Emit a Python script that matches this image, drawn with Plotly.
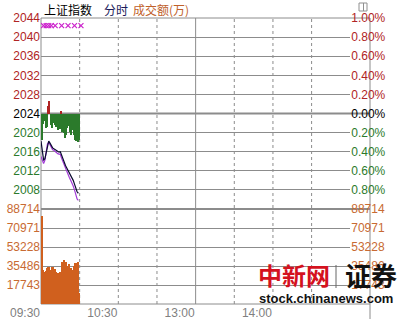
import plotly.graph_objects as go
from plotly.subplots import make_subplots

# ---------------- data ----------------
minutes = list(range(30))  # minutes since 09:30
index_price = [2018.2, 2015.5, 2014.3, 2014.5, 2015.8, 2017.5, 2018.2, 2017.8, 2017.2, 2016.8,
               2016.6, 2016.4, 2016.2, 2016.0, 2015.9, 2016.0, 2015.2, 2014.5, 2013.7, 2013.1,
               2012.6, 2012.1, 2011.6, 2011.0, 2010.4, 2010.0, 2009.2, 2008.3, 2007.6, 2007.3]
avg_price = [2015.0, 2014.0, 2013.5, 2014.2, 2016.0, 2017.6, 2018.0, 2017.5, 2016.8, 2016.4,
             2016.3, 2016.0, 2015.8, 2015.6, 2015.5, 2015.4, 2014.6, 2013.9, 2013.0, 2012.3,
             2011.6, 2011.0, 2010.6, 2010.0, 2009.5, 2008.8, 2008.0, 2007.0, 2006.1, 2005.8]
strength = [-5.5, -2.2, -1.5, -3.0, -2.8, 1.6, 2.6, -2.5, -3.0, -2.0,
            -2.4, -2.8, -2.2, -3.5, -3.3, 0.5, -3.8, -4.0, -5.2, -4.5,
            -3.0, -2.6, -3.8, -4.4, -3.4, -4.6, -5.6, -5.8, -6.0, -5.5]
volume = [82200, 31700, 29900, 30800, 33600, 34500, 34800, 31700, 34500, 34500,
          32700, 29900, 28900, 28900, 29900, 28900, 39200, 41100, 38300, 39200,
          35500, 37400, 33600, 33600, 31700, 35500, 38300, 38300, 39200, 10300]
signal_minutes = [2, 4, 6, 8, 11, 16, 21, 26, 31]
signal_level = [2042.4] * len(signal_minutes)

prev_close = 2024
price_ticks = [2008, 2012, 2016, 2020, 2024, 2028, 2032, 2036, 2040, 2044]
price_labels = ["2008", "2012", "2016", "2020", "2024", "2028", "2032", "2036", "2040", "2044"]
pct_labels = ["0.80%", "0.60%", "0.40%", "0.20%", "0.00%", "0.20%", "0.40%", "0.60%", "0.80%", "1.00%"]
vol_ticks = [17743, 35486, 53228, 70971, 88714]
vol_labels = ["17743", "35486", "53228", "70971", "88714"]
time_ticks = [0, 60, 120, 180]
time_labels = ["09:30", "10:30", "13:00", "14:00"]
grid_dot_minutes = [30, 60, 90, 150, 180, 210]
midday_minute = 120

RED = "#B02424"
GREEN = "#2B7A2B"
ORANGE = "#C86A32"
GRID = "#8C8C8C"
FONT = "Liberation Sans"

def colored(labels, ticks):
    out = []
    for lab, t in zip(labels, ticks):
        c = RED if t > prev_close else (GREEN if t < prev_close else "#000000")
        out.append(f"<span style='color:{c}'>{lab}</span>")
    return out

fig = make_subplots(rows=2, cols=1, shared_xaxes=True, vertical_spacing=0,
                    row_heights=[191, 95],
                    specs=[[{"secondary_y": True}], [{"secondary_y": True}]])

# strength bars around previous close
fig.add_trace(go.Bar(x=minutes, y=strength, base=prev_close, width=0.8, offset=0.15,
                     marker=dict(color=[RED if v > 0 else GREEN for v in strength], line=dict(width=0)),
                     showlegend=False), row=1, col=1)
# price lines
fig.add_trace(go.Scatter(x=minutes, y=avg_price, mode="lines",
                         line=dict(color="#A23BD6", width=1.2), showlegend=False), row=1, col=1)
fig.add_trace(go.Scatter(x=minutes, y=index_price, mode="lines",
                         line=dict(color="#0A0A30", width=1.2), showlegend=False), row=1, col=1)
# signal markers
fig.add_trace(go.Scatter(x=signal_minutes, y=signal_level, mode="markers",
                         marker=dict(symbol="x-thin", size=5, line=dict(color="#CC22CC", width=1.2)),
                         showlegend=False), row=1, col=1)
# invisible for secondary axis
fig.add_trace(go.Scatter(x=[0], y=[prev_close], mode="markers", marker=dict(opacity=0),
                         showlegend=False, hoverinfo="skip"), row=1, col=1, secondary_y=True)
# volume
fig.add_trace(go.Bar(x=minutes, y=volume, width=0.8, offset=0.15,
                     marker=dict(color="#D0601E", line=dict(width=0)),
                     showlegend=False), row=2, col=1)
fig.add_trace(go.Scatter(x=[0], y=[0], mode="markers", marker=dict(opacity=0),
                         showlegend=False, hoverinfo="skip"), row=2, col=1, secondary_y=True)

tickfont = dict(family=FONT, size=12)
vfont = dict(family=FONT, size=12, color=ORANGE)
common_y = dict(showline=False, zeroline=False, ticks="", fixedrange=True, automargin=False)
fig.update_layout(
    width=411, height=319,
    margin=dict(l=41, r=41, t=18, b=15),
    paper_bgcolor="white", plot_bgcolor="white",
    bargap=0, showlegend=False,
    yaxis=dict(range=[2004, 2044], tickvals=price_ticks, ticktext=colored(price_labels, price_ticks),
               showgrid=True, gridcolor=GRID, gridwidth=1, tickfont=tickfont, **common_y),
    yaxis2=dict(range=[2004, 2044], tickvals=price_ticks, ticktext=colored(pct_labels, price_ticks),
                showgrid=False, side="right", overlaying="y", tickfont=tickfont, **common_y),
    yaxis3=dict(range=[0, 88714], tickvals=vol_ticks, ticktext=vol_labels,
                showgrid=True, gridcolor=GRID, gridwidth=1, tickfont=vfont, **common_y),
    yaxis4=dict(range=[0, 88714], tickvals=vol_ticks, ticktext=vol_labels,
                showgrid=False, side="right", overlaying="y3", tickfont=vfont, **common_y),
    xaxis=dict(range=[0, 240], showgrid=False, showticklabels=False, zeroline=False, ticks="",
               automargin=False),
    xaxis2=dict(range=[0, 240], showgrid=False, zeroline=False, ticks="", tickvals=time_ticks,
                ticktext=time_labels, ticklabelshift=-16, automargin=False,
                tickfont=dict(family=FONT, size=12, color="#808080")),
)

shapes = []
for m in grid_dot_minutes:
    shapes.append(dict(type="line", xref="x", yref="paper", x0=m, x1=m, y0=0, y1=1, layer="below",
                       line=dict(color=GRID, width=1, dash="dot")))
shapes.append(dict(type="line", xref="x", yref="paper", x0=midday_minute, x1=midday_minute, y0=0, y1=1,
                   layer="below", line=dict(color=GRID, width=1)))
shapes.append(dict(type="line", xref="paper", yref="y", x0=0, x1=1, y0=prev_close, y1=prev_close,
                   layer="below", line=dict(color=GRID, width=2)))
shapes.append(dict(type="line", xref="paper", yref="paper", x0=0, x1=1, y0=95/286, y1=95/286,
                   layer="below", line=dict(color=GRID, width=2)))
# frame
shapes.append(dict(type="rect", xref="paper", yref="paper", x0=0, x1=1, y0=0, y1=1, layer="below",
                   line=dict(color=GRID, width=1)))
shapes.append(dict(type="line", xref="paper", yref="paper", x0=1, x1=1, y0=-15/286, y1=0,
                   line=dict(color=GRID, width=1)))
# small icon top right
px = lambda v: (v - 41) / 329
py = lambda v: (304 - v) / 286
shapes.append(dict(type="rect", xref="paper", yref="paper", x0=px(359), x1=px(367), y0=py(11), y1=py(3),
                   line=dict(color="#909090", width=1), fillcolor="white"))
shapes.append(dict(type="line", xref="paper", yref="paper", x0=px(363.5), x1=px(363.5), y0=py(11), y1=py(3),
                   line=dict(color="#909090", width=1)))
# watermark separator
shapes.append(dict(type="line", xref="paper", yref="paper", x0=px(336), x1=px(336), y0=py(288), y1=py(265),
                   line=dict(color="#666666", width=1)))
fig.update_layout(shapes=shapes)

cjk = "Noto Sans CJK SC"
ann = [
    dict(text="上证指数", x=px(42), y=py(9), xanchor="left", yanchor="middle",
         font=dict(family=cjk, size=12, color="#000000")),
    dict(text="分时", x=px(102), y=py(9), xanchor="left", yanchor="middle",
         font=dict(family=cjk, size=12, color="#1A1A5A")),
    dict(text="成交额(万)", x=px(131), y=py(9), xanchor="left", yanchor="middle",
         font=dict(family=cjk, size=12, color="#C0602A")),
    dict(text="<b>中新网</b>", x=px(256), y=py(274), xanchor="left", yanchor="middle",
         font=dict(family="Noto Sans CJK SC", size=24, color="#D4121E")),
    dict(text="<b>证券</b>", x=px(343), y=py(274), xanchor="left", yanchor="middle",
         font=dict(family="Noto Sans CJK SC", size=26, color="#111111")),
    dict(text="<b>stock.chinanews.com</b>", x=px(257), y=py(298), xanchor="left", yanchor="middle",
         font=dict(family="Liberation Sans", size=13, color="#111111")),
]
for a in ann:
    a.update(xref="paper", yref="paper", showarrow=False)
fig.update_layout(annotations=ann)

fig.write_html("out.html")
